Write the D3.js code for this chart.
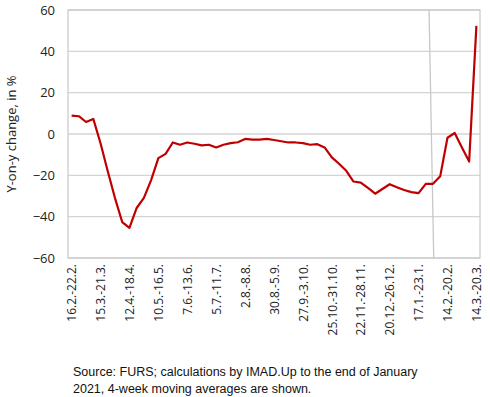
<!DOCTYPE html>
<html>
<head>
<meta charset="utf-8">
<script src="https://cdn.jsdelivr.net/npm/d3@7"></script>
<style>
  body { margin: 0; background: #fff; }
  svg { display: block; font-family: "Open Sans", sans-serif; }
  .axis path, .axis line { display: none; }
  .axis text { fill: #222; font-family: "Open Sans", sans-serif; }
</style>
</head>
<body>
<svg id="chart"></svg>
<script>
var width = 490, height = 397;
var margin = { top: 10, right: 10, bottom: 139, left: 68 };

// weekly y-on-y change, in %
var values = [
  8.9, 8.6, 5.8, 7.3, -4.5, -18, -31, -42.6, -45.4, -35.8,
  -30.9, -22.3, -11.7, -9.6, -4.1, -5.2, -4.1, -4.7, -5.5, -5.2,
  -6.5, -5.2, -4.4, -4.0, -2.4, -2.7, -2.7, -2.4, -2.9, -3.5,
  -4.1, -4.1, -4.4, -5.2, -4.9, -6.5, -11.3, -14.4, -17.8, -23.0,
  -23.5, -26.1, -28.9, -26.6, -24.3, -25.8, -27.1, -28.1, -28.6, -24.1,
  -24.1, -20.4, -1.8, 0.5, -6.5, -13.3, 52.3
];

var tickLabels = ["16.2.-22.2.", "15.3.-21.3.", "12.4.-18.4.", "10.5.-16.5.", "7.6.-13.6.",
  "5.7.-11.7.", "2.8.-8.8.", "30.8.-5.9.", "27.9.-3.10.", "25.10.-31.10.",
  "22.11.-28.11.", "20.12.-26.12.", "17.1.-23.1.", "14.2.-20.2.", "14.3.-20.3."];
var tickEvery = 4;

var yTicks = [-60, -40, -20, 0, 20, 40, 60];

// slanted separator drawn on the original chart (week index, value)
var divider = [{ i: 49.45, v: 60 }, { i: 50.1, v: -60 }];

var innerWidth = width - margin.left - margin.right;
var innerHeight = height - margin.top - margin.bottom;

var svg = d3.select("#chart")
  .attr("width", width)
  .attr("height", height);

var xScale = d3.scaleLinear()
  .domain([-0.5, values.length - 0.5])
  .range([margin.left, margin.left + innerWidth]);

var yScale = d3.scaleLinear()
  .domain([-60, 60])
  .range([margin.top + innerHeight, margin.top]);

// gridlines
svg.append("g")
  .selectAll("line")
  .data(yTicks)
  .enter().append("line")
  .attr("x1", margin.left)
  .attr("x2", margin.left + innerWidth)
  .attr("y1", d => yScale(d))
  .attr("y2", d => yScale(d))
  .attr("stroke", "#d4d4d4")
  .attr("stroke-width", 1.3);

// plot frame
svg.append("rect")
  .attr("x", margin.left)
  .attr("y", margin.top)
  .attr("width", innerWidth)
  .attr("height", innerHeight)
  .attr("fill", "none")
  .attr("stroke", "#cccccc")
  .attr("stroke-width", 1.3);

svg.append("line")
  .attr("x1", xScale(divider[0].i))
  .attr("y1", yScale(divider[0].v))
  .attr("x2", xScale(divider[1].i))
  .attr("y2", yScale(divider[1].v))
  .attr("stroke", "#c8c8c8")
  .attr("stroke-width", 1.3);

var line = d3.line()
  .x((d, i) => xScale(i))
  .y(d => yScale(d));

svg.append("path")
  .datum(values)
  .attr("fill", "none")
  .attr("stroke", "#c00000")
  .attr("stroke-width", 2.2)
  .attr("stroke-linejoin", "round")
  .attr("d", line);

var yAxis = d3.axisLeft(yScale)
  .tickValues(yTicks)
  .tickSize(0)
  .tickPadding(13);

svg.append("g")
  .attr("class", "axis")
  .attr("transform", `translate(${margin.left}, 0)`)
  .call(yAxis)
  .selectAll("text")
  .style("font-size", "13px");

var xAxis = d3.axisBottom(xScale)
  .tickValues(d3.range(0, values.length, tickEvery))
  .tickSize(0)
  .tickFormat(d => tickLabels[d / tickEvery]);

svg.append("g")
  .attr("class", "axis")
  .attr("transform", `translate(0, ${margin.top + innerHeight})`)
  .call(xAxis)
  .selectAll("text")
  .attr("transform", "rotate(-90)")
  .attr("x", -6)
  .attr("y", 0)
  .attr("dy", "0.35em")
  .style("text-anchor", "end")
  .style("font-size", "12px");

svg.append("text")
  .attr("transform", `translate(16, ${margin.top + innerHeight / 2}) rotate(-90)`)
  .style("text-anchor", "middle")
  .style("font-size", "13px")
  .style("fill", "#222")
  .text("Y-on-y change, in %");

var note = svg.append("text")
  .style("font-family", "'Liberation Sans', Arial, sans-serif")
  .style("font-size", "12.5px")
  .style("fill", "#111");

note.append("tspan")
  .attr("x", 73)
  .attr("y", 376)
  .text("Source: FURS; calculations by IMAD.Up to the end of January");

note.append("tspan")
  .attr("x", 73)
  .attr("y", 393)
  .text("2021, 4-week moving averages are shown.");
</script>
</body>
</html>
